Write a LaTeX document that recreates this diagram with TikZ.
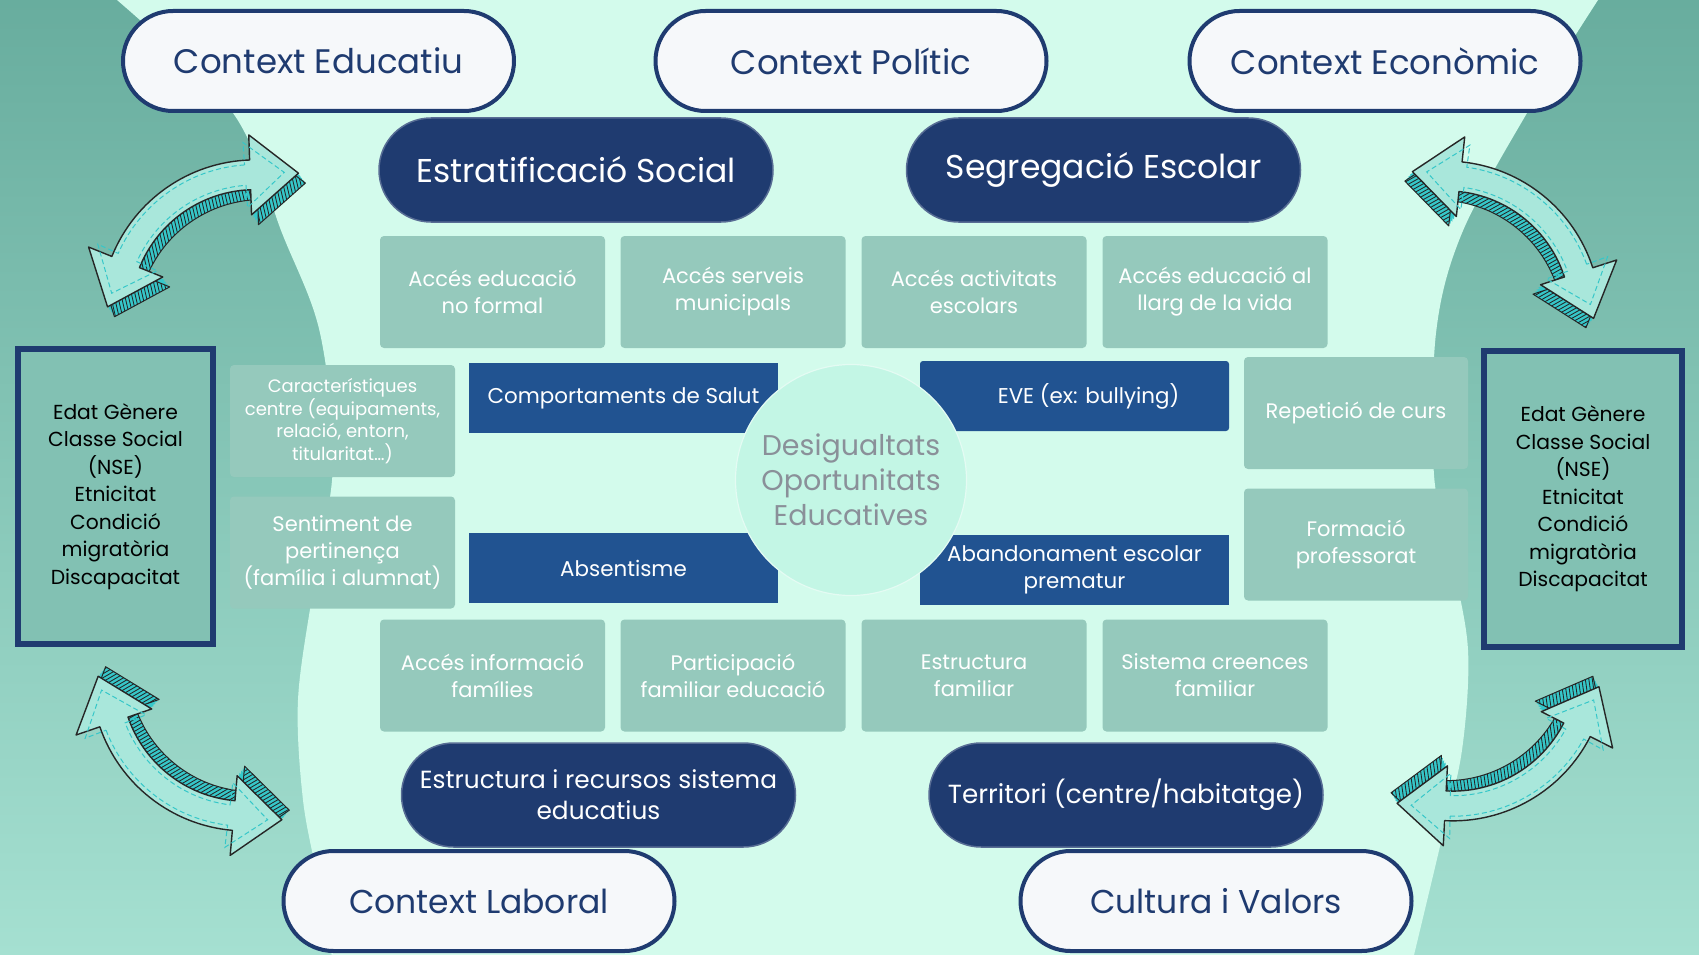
\documentclass[tikz,border=0pt]{standalone}
\usepackage{fontspec}
\setmainfont{Poppins}
\definecolor{mint}{HTML}{D3FBEC}
\definecolor{tealdark}{HTML}{68AD9E}
\definecolor{teallight}{HTML}{A5E0D1}
\definecolor{navy}{HTML}{1F3B70}
\definecolor{blueb}{HTML}{215391}
\definecolor{boxg}{HTML}{95C9BC}
\definecolor{circ}{HTML}{C3F6E5}
\definecolor{pillw}{HTML}{F6F8FA}
\definecolor{cyanside}{HTML}{36C7C9}
\definecolor{arrface}{HTML}{A9E7DB}
\definecolor{ctxt}{HTML}{8A9099}
\definecolor{demof}{HTML}{82C1B3}
\newcommand\arrpath[4]{({270-#4}:{1.5+#1}) arc[start angle={270-#4},end angle={270+#4},radius={1.5+#1}] -- ({270+#4}:{1.5+#2}) -- ({1.5*cos(270+#4)+#3*cos(#4)},{1.5*sin(270+#4)+#3*sin(#4)}) -- ({270+#4}:{1.5-#2}) -- ({270+#4}:{1.5-#1}) arc[start angle={270+#4},end angle={270-#4},radius={1.5-#1}] -- ({270-#4}:{1.5-#2}) -- ({1.5*cos(270-#4)+#3*cos(180-#4)},{1.5*sin(270-#4)+#3*sin(180-#4)}) -- ({270-#4}:{1.5+#2}) -- cycle}
\tikzset{
  pics/dblarr/.style={code={
    \begin{scope}[shift={(0,0.975)}]
      \foreach \t in {0.13,0.1,0.07,0.04} {\fill[cyanside, shift={(0,\t)}] \arrpath{0.16}{0.43}{0.52}{33};}
      \begin{scope}
        \clip[shift={(0,0.13)}] \arrpath{0.16}{0.43}{0.52}{33};
        \foreach \i in {0,...,130} {\draw[black!85, line width=0.85pt] ({-2.9+\i*0.04},-2.2) -- ++(1.0,2.5);}
      \end{scope}
      \draw[black!85, line width=1pt, line join=round, shift={(0,0.13)}] \arrpath{0.16}{0.43}{0.52}{33};
      \filldraw[fill=arrface, draw=black!85, line width=1.4pt, line join=round] \arrpath{0.16}{0.43}{0.52}{33};
      \draw[cyanside, line width=1pt, dash pattern=on 5pt off 3pt] \arrpath{0.11}{0.35}{0.42}{31};
    \end{scope}
  }},
  ctx/.style={draw=navy, line width=4pt, fill=pillw, rounded corners=50pt, minimum width=391pt, minimum height=100pt, text=navy, font=\fontsize{34}{40}\selectfont, inner sep=0pt},
  npill/.style={draw=navy!75!white, line width=1.5pt, fill=navy, rounded corners=52pt, minimum width=394pt, minimum height=104pt, text=white, font=\fontsize{33}{38}\selectfont, align=center, inner sep=0pt},
  lbox/.style={fill=boxg, rounded corners=4pt, minimum width=225pt, minimum height=112pt, text=white, font=\fontsize{21}{27}\selectfont, align=center, inner sep=0pt},
  bbox/.style={fill=blueb, minimum width=309pt, minimum height=70pt, text=white, font=\fontsize{21.4}{27}\selectfont, align=center, inner sep=0pt},
  demo/.style={draw=navy, line width=6pt, fill=demof, minimum width=195pt, minimum height=295pt, text=black, font=\fontsize{20.3}{27.5}\selectfont, align=center, inner sep=0pt},
}
\begin{document}
\begin{tikzpicture}[x=1pt,y=1pt,yscale=-1]
\useasboundingbox (0,0) rectangle (1699,955);
\shade[top color=tealdark, bottom color=teallight] (0,0) rectangle (1699,955);
\fill[mint] (100,-2) -- plot[smooth,tension=0.55] coordinates {(117,0) (233,113) (282,233) (320,333) (333,465) (313,590) (298,700) (303,800) (318,880) (332,957)} -- (1412,957) -- plot[smooth,tension=0.55] coordinates {(1414,955) (1441,842) (1462,750) (1468,650) (1452,560) (1434,475) (1436,333) (1462,233) (1527,113) (1598,0)} -- (1600,-2) -- cycle;

\pic (arrTL) [rotate=215, scale=93] at (203,240) {dblarr};
\pic (arrTR) [rotate=141, scale=93] at (1503,245) {dblarr};
\pic (arrBL) [rotate=-38, scale=93] at (190,748) {dblarr};
\pic (arrBR) [rotate=30, scale=93] at (1498,745) {dblarr};

\node[demo] (dl) at (115.5,496.5) {Edat Gènere\\Classe Social\\(NSE)\\Etnicitat\\Condició\\migratòria\\Discapacitat};
\node[demo, minimum width=198pt, minimum height=296pt] (dr) at (1583,499) {Edat Gènere\\Classe Social\\(NSE)\\Etnicitat\\Condició\\migratòria\\Discapacitat};

\node[lbox] (a1) at (492.5,292) {Accés educació\\no formal};
\node[lbox] (a2) at (733,292) {Accés serveis\\municipals};
\node[lbox] (a3) at (974,292) {Accés activitats\\escolars};
\node[lbox] (a4) at (1215,292) {Accés educació al\\llarg de la vida};
\node[lbox] (f1) at (492.5,675.5) {Accés informació\\famílies};
\node[lbox] (f2) at (733,675.5) {Participació\\familiar educació};
\node[lbox] (f3) at (974,675.5) {Estructura\\familiar};
\node[lbox] (f4) at (1215,675.5) {Sistema creences\\familiar};
\node[lbox, font=\fontsize{18}{22.7}\selectfont] (l1) at (342.5,421) {Característiques\\centre (equipaments,\\relació, entorn,\\titularitat…)};
\node[lbox] (l2) at (342.5,552.5) {Sentiment de\\pertinença\\(família i alumnat)};
\node[lbox, minimum width=224pt] (r1) at (1356,413) {Repetició de curs};
\node[lbox, minimum width=224pt] (r2) at (1356,544.5) {Formació\\professorat};

\node[bbox] (b1) at (623.5,398) {Comportaments de Salut};
\node[bbox] (b2) at (623.5,568) {Absentisme};
\node[bbox, rounded corners=3pt] (b3) at (1074.5,396) {\hspace*{28pt}EVE (ex: bullying)};
\node[bbox] (b4) at (1074.5,570) {Abandonament escolar\\prematur};

\node[circle, fill=circ, draw=white!55!circ, line width=1.2pt, minimum size=231pt, inner sep=0pt, text=ctxt, font=\fontsize{28.5}{35}\selectfont, align=center] (c) at (851,480) {Desigualtats\\Oportunitats\\Educatives};

\node[npill] (es) at (576,170) {Estratificació Social};
\node[npill] (se) at (1103.5,170) {Segregació Escolar};
\node[npill, font=\fontsize{24.8}{31}\selectfont] (er) at (598.5,795) {Estructura i recursos sistema\\educatius};
\node[npill, font=\fontsize{26.2}{31}\selectfont] (te) at (1126,795) {Territori (centre/habitatge)};

\node[ctx] (ce) at (318.5,61) {Context Educatiu};
\node[ctx] (cp) at (851,61) {Context Polític};
\node[ctx] (cn) at (1385,61) {Context Econòmic};
\node[ctx, font=\fontsize{33}{40}\selectfont] (cl) at (479,901) {Context Laboral};
\node[ctx, font=\fontsize{33}{40}\selectfont] (cv) at (1216,901) {Cultura i Valors};
\end{tikzpicture}
\end{document}
